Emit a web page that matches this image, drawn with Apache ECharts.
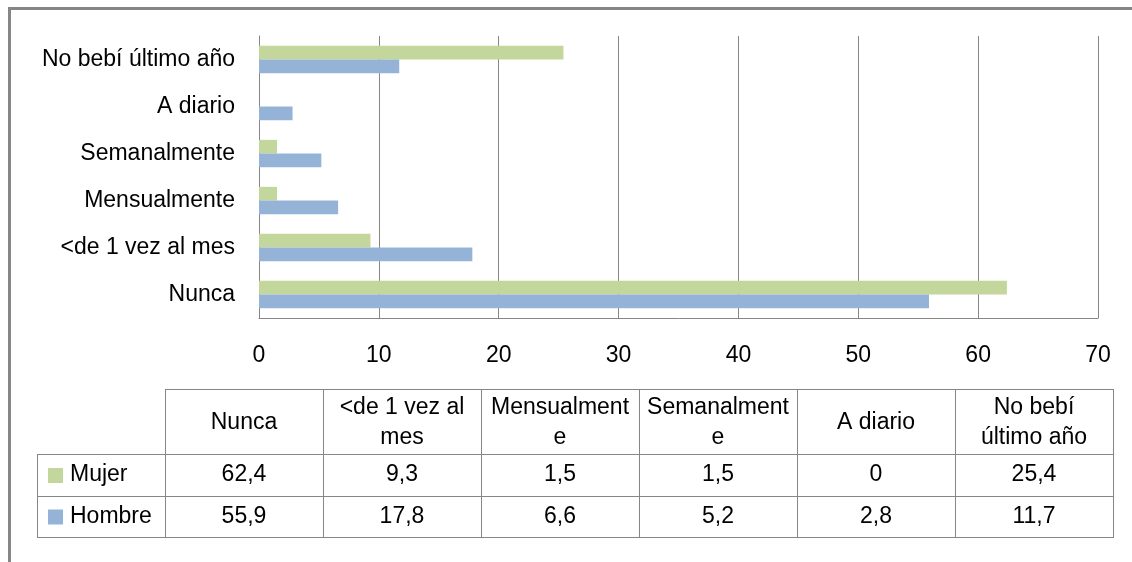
<!DOCTYPE html>
<html>
<head>
<meta charset="utf-8">
<script src="https://cdn.jsdelivr.net/npm/echarts@6/dist/echarts.min.js"></script>
<style>
html,body{margin:0;padding:0;background:#fff;}
#chart{width:1132px;height:562px;}
</style>
</head>
<body>
<div id="chart"></div>
<script>
var categories = ['Nunca', '<de 1 vez al mes', 'Mensualmente', 'Semanalmente', 'A diario', 'No bebí último año'];
var tableHeaders = ['Nunca', '<de 1 vez al\nmes', 'Mensualment\ne', 'Semanalment\ne', 'A diario', 'No bebí\núltimo año'];
var mujer = [62.4, 9.3, 1.5, 1.5, 0, 25.4];
var hombre = [55.9, 17.8, 6.6, 5.2, 2.8, 11.7];
var seriesNames = ['Mujer', 'Hombre'];
var xTicks = { min: 0, max: 70, interval: 10 };

var GREEN = '#C3D69B', BLUE = '#95B3D7', LINE = '#868686';
var FONT = 'Liberation Sans';
var FS = 23;

var chart = echarts.init(document.getElementById('chart'), null, { renderer: 'canvas' });

// table graphic, built from the arrays
var g = [];
var tL = 165, colW = 158, nC = categories.length, tR = tL + colW * nC;
var legL = 37;
var yH = 389, yR1 = 454, yR2 = 496, yB = 537;
function hline(x1, x2, y) { g.push({ type: 'line', shape: { x1: x1, y1: y + 0.5, x2: x2, y2: y + 0.5 }, style: { stroke: LINE, lineWidth: 1 }, silent: true }); }
function vline(x, y1, y2) { g.push({ type: 'line', shape: { x1: x + 0.5, y1: y1, x2: x + 0.5, y2: y2 }, style: { stroke: LINE, lineWidth: 1 }, silent: true }); }
hline(tL, tR, yH);
hline(legL, tR, yR1);
hline(legL, tR, yR2);
hline(legL, tR, yB);
vline(legL, yR1, yB + 1);
for (var i = 0; i <= nC; i++) vline(tL + colW * i, yH, yB + 1);
function fmt(v) { return String(v).replace('.', ','); }
var font = FS + 'px "' + FONT + '"';
for (var c = 0; c < nC; c++) {
  var cx = tL + colW * c + colW / 2;
  g.push({ type: 'text', x: cx, y: (yH + yR1) / 2 + 1, style: { text: tableHeaders[c], font: font, fill: '#000', align: 'center', verticalAlign: 'middle', lineHeight: 30 }, silent: true });
  g.push({ type: 'text', x: cx, y: (yR1 + yR2) / 2, style: { text: fmt(mujer[c]), font: font, fill: '#000', align: 'center', verticalAlign: 'middle' }, silent: true });
  g.push({ type: 'text', x: cx, y: (yR2 + yB) / 2, style: { text: fmt(hombre[c]), font: font, fill: '#000', align: 'center', verticalAlign: 'middle' }, silent: true });
}
var legRows = [[seriesNames[0], GREEN, (yR1 + yR2) / 2], [seriesNames[1], BLUE, (yR2 + yB) / 2]];
legRows.forEach(function (r) {
  g.push({ type: 'rect', shape: { x: 48, y: r[2] - 7, width: 15, height: 15 }, style: { fill: r[1] }, silent: true });
  g.push({ type: 'text', x: 70, y: r[2], style: { text: r[0], font: font, fill: '#000', align: 'left', verticalAlign: 'middle' }, silent: true });
});
// outer frame (top & left visible)
g.push({ type: 'line', shape: { x1: 8, y1: 8.5, x2: 1132, y2: 8.5 }, style: { stroke: LINE, lineWidth: 3 }, silent: true });
g.push({ type: 'line', shape: { x1: 9.5, y1: 7, x2: 9.5, y2: 562 }, style: { stroke: LINE, lineWidth: 3 }, silent: true });

var option = {
  animation: false,
  backgroundColor: '#fff',
  grid: { left: 259, right: 34, top: 36, bottom: 244, containLabel: false },
  xAxis: {
    type: 'value', min: xTicks.min, max: xTicks.max, interval: xTicks.interval,
    axisLine: { show: true, lineStyle: { color: LINE, width: 1 } },
    axisTick: { show: false },
    splitLine: { show: true, lineStyle: { color: LINE, width: 1 } },
    axisLabel: { color: '#000', fontFamily: FONT, fontSize: FS, margin: 26 }
  },
  yAxis: {
    type: 'category', data: categories,
    axisLine: { show: true, lineStyle: { color: LINE, width: 1 } },
    axisTick: { show: false },
    axisLabel: { color: '#000', fontFamily: FONT, fontSize: FS, margin: 24 }
  },
  series: [
    { name: seriesNames[0], type: 'bar', data: mujer, itemStyle: { color: GREEN }, barGap: '0%', barCategoryGap: '42%' },
    { name: seriesNames[1], type: 'bar', data: hombre, itemStyle: { color: BLUE }, barGap: '0%', barCategoryGap: '42%' }
  ],
  graphic: { elements: g }
};
chart.setOption(option);
</script>
</body>
</html>
